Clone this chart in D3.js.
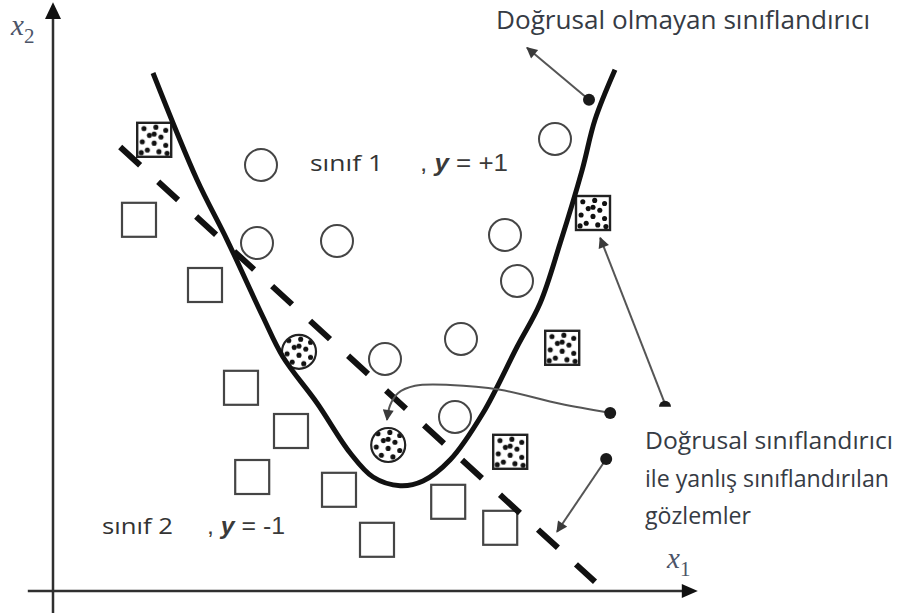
<!DOCTYPE html>
<html>
<head>
<meta charset="utf-8">
<script src="https://cdn.jsdelivr.net/npm/d3@7"></script>
<style>
  html, body { margin: 0; padding: 0; background: #fff; }
  svg { display: block; }
</style>
</head>
<body>
<svg id="chart" width="901" height="616"></svg>
<script>
// Class 1 (y = +1) observations
const class1Points = [
  [5.2, 10.65], [12.55, 11.3], [5.1, 8.7], [7.1, 8.75], [11.3, 8.9],
  [11.6, 7.75], [10.2, 6.3], [8.3, 5.8], [10.05, 4.35]
];
// Class 2 (y = -1) observations
const class2Points = [
  [2.15, 9.28], [3.8, 7.65], [4.7, 5.08], [5.95, 4.0], [4.98, 2.85],
  [7.15, 2.53], [8.1, 1.28], [9.88, 2.23], [11.18, 1.58]
];
// Observations misclassified by the linear classifier
const misclassSquares = [[2.53, 11.28], [13.5, 9.45], [12.73, 6.08], [11.43, 3.48]];
const misclassCircles = [[6.15, 5.98], [8.38, 3.65]];

// Non-linear decision boundary
const nonlinearBoundary = [
  [2.5, 12.95], [3.6, 10.28], [4.35, 8.78], [5.25, 6.85], [5.75, 5.85],
  [6.6, 4.7], [7.43, 3.45], [8.0, 2.85], [8.68, 2.63], [9.25, 2.75],
  [9.93, 3.28], [10.75, 4.45], [11.6, 6.1], [12.18, 7.2], [12.68, 8.7],
  [13.23, 10.53], [13.55, 11.78], [14.05, 13.03]
];
// Linear decision boundary (end points)
const linearBoundary = [[1.68, 11.1], [13.55, 0.23]];

// Annotation leaders: start dot -> arrow tip
const leaderNonlinear = [[13.4, 12.28], [11.85, 13.58]];
const leaderSquare = [[15.3, 4.68], [13.68, 8.83]];
const leaderCircle = [
  [13.93, 4.45], [12.68, 4.68], [11.18, 5.03], [9.93, 5.15],
  [9.05, 5.13], [8.63, 4.95], [8.43, 4.65], [8.35, 4.28]
];
const leaderLine = [[13.83, 3.3], [12.6, 1.48]];

const titleNonlinear = "Doğrusal olmayan sınıflandırıcı";
const noteLines = ["Doğrusal sınıflandırıcı", "ile yanlış sınıflandırılan", "gözlemler"];
const class1Label = "sınıf 1";
const class2Label = "sınıf 2";

const svg = d3.select("#chart");
const x = d3.scaleLinear().domain([0, 16]).range([53, 693]);
const y = d3.scaleLinear().domain([0, 14.75]).range([591, 1]);

const defs = svg.append("defs");

// speckled fill for misclassified markers
const dotsInPattern = [
  [0.2, 0.17], [0.55, 0.13], [0.84, 0.22], [0.36, 0.37], [0.7, 0.42],
  [0.15, 0.56], [0.5, 0.6], [0.84, 0.66], [0.3, 0.8], [0.64, 0.85],
  [0.88, 0.9], [0.12, 0.88], [0.5, 0.33]
];
const pat = defs.append("pattern")
  .attr("id", "speckle")
  .attr("patternUnits", "objectBoundingBox")
  .attr("patternContentUnits", "objectBoundingBox")
  .attr("width", 1).attr("height", 1);
pat.append("rect").attr("width", 1).attr("height", 1).attr("fill", "#fff");
pat.selectAll("circle").data(dotsInPattern).join("circle")
  .attr("cx", d => d[0]).attr("cy", d => d[1]).attr("r", 0.075).attr("fill", "#111");

defs.append("marker")
  .attr("id", "arrowhead")
  .attr("viewBox", "0 0 10 10")
  .attr("refX", 9).attr("refY", 5)
  .attr("markerWidth", 13).attr("markerHeight", 11)
  .attr("markerUnits", "userSpaceOnUse")
  .attr("orient", "auto")
  .append("path").attr("d", "M0,0 L10,5 L0,10 Z").attr("fill", "#3a3a3a");

// axes
const axisColor = "#2f2f2f";
svg.append("line")
  .attr("x1", x(0)).attr("x2", x(0))
  .attr("y1", y(-0.55)).attr("y2", y(14.3))
  .attr("stroke", axisColor).attr("stroke-width", 2.5);
svg.append("path")
  .attr("d", `M${x(0)},${y(14.72)} L${x(0) - 8},${y(14.3)} L${x(0) + 8},${y(14.3)} Z`)
  .attr("fill", "#111");
svg.append("line")
  .attr("x1", x(-0.63)).attr("x2", x(15.75))
  .attr("y1", y(0)).attr("y2", y(0))
  .attr("stroke", axisColor).attr("stroke-width", 2.5);
svg.append("path")
  .attr("d", `M${x(16.12)},${y(0)} L${x(15.72)},${y(0) - 7} L${x(15.72)},${y(0) + 7} Z`)
  .attr("fill", "#111");

// axis labels
const axLabel = (px, py, sub) => {
  const t = svg.append("text")
    .attr("x", px).attr("y", py)
    .attr("font-family", "'Liberation Serif', 'DejaVu Serif', serif")
    .attr("fill", "#4c5468");
  t.append("tspan").attr("font-style", "italic").attr("font-size", 29).text("x");
  t.append("tspan").attr("font-size", 21).attr("dy", 8).attr("dx", 0).text(sub);
};
axLabel(11, 35, "2");
axLabel(667, 568, "1");

// markers
const sq = 34, r = 16;
const grey = "#454545";
svg.append("g").selectAll("rect").data(class2Points).join("rect")
  .attr("x", d => x(d[0]) - sq / 2).attr("y", d => y(d[1]) - sq / 2)
  .attr("width", sq).attr("height", sq)
  .attr("fill", "#fff").attr("stroke", grey).attr("stroke-width", 2.2);
svg.append("g").selectAll("circle").data(class1Points).join("circle")
  .attr("cx", d => x(d[0])).attr("cy", d => y(d[1])).attr("r", r)
  .attr("fill", "#fff").attr("stroke", grey).attr("stroke-width", 2);
svg.append("g").selectAll("rect").data(misclassSquares).join("rect")
  .attr("x", d => x(d[0]) - sq / 2).attr("y", d => y(d[1]) - sq / 2)
  .attr("width", sq).attr("height", sq)
  .attr("fill", "url(#speckle)").attr("stroke", "#222").attr("stroke-width", 2.4);
svg.append("g").selectAll("circle").data(misclassCircles).join("circle")
  .attr("cx", d => x(d[0])).attr("cy", d => y(d[1])).attr("r", 17)
  .attr("fill", "url(#speckle)").attr("stroke", "#222").attr("stroke-width", 2.2);

// boundaries
svg.append("path")
  .attr("d", d3.line().x(d => x(d[0])).y(d => y(d[1]))(linearBoundary))
  .attr("fill", "none").attr("stroke", "#111").attr("stroke-width", 6)
  .attr("stroke-dasharray", "27,24.5");
svg.append("path")
  .attr("d", d3.line().x(d => x(d[0])).y(d => y(d[1])).curve(d3.curveCatmullRom.alpha(0.5))(nonlinearBoundary))
  .attr("fill", "none").attr("stroke", "#111").attr("stroke-width", 5);

// annotation leaders
const leader = (pts, curved) => svg.append("path")
  .attr("d", d3.line().x(d => x(d[0])).y(d => y(d[1]))
    .curve(curved ? d3.curveCatmullRom.alpha(0.5) : d3.curveLinear)(pts))
  .attr("fill", "none").attr("stroke", "#555").attr("stroke-width", 2)
  .attr("marker-end", "url(#arrowhead)");
leader(leaderNonlinear, false);
leader(leaderSquare, false);
leader(leaderCircle, true);
leader(leaderLine, false);

const dotStarts = [leaderNonlinear[0], leaderCircle[0], leaderLine[0]];
svg.append("g").selectAll("circle").data(dotStarts).join("circle")
  .attr("cx", d => x(d[0])).attr("cy", d => y(d[1])).attr("r", 6)
  .attr("fill", "#1a1a1a");
// half dot where the leader meets the note
{
  const cx = x(leaderSquare[0][0]), cy = y(leaderSquare[0][1]) + 3;
  svg.append("path")
    .attr("d", `M${cx - 6},${cy} A6,6 0 0 1 ${cx + 6},${cy} Z`)
    .attr("fill", "#1a1a1a");
}

// texts
const sans = "'Open Sans', 'Noto Sans', sans-serif";
const textColor = "#363b44";
svg.append("text")
  .attr("x", 496).attr("y", 29)
  .attr("font-family", sans).attr("font-size", 25).attr("fill", textColor)
  .attr("textLength", 374).attr("lengthAdjust", "spacingAndGlyphs")
  .text(titleNonlinear);

const noteWidths = [248, 244, 106];
svg.append("g").selectAll("text").data(noteLines).join("text")
  .attr("x", 645).attr("y", (d, i) => 449 + i * 37.5)
  .attr("font-family", sans).attr("font-size", 24).attr("fill", textColor)
  .attr("textLength", (d, i) => noteWidths[i]).attr("lengthAdjust", "spacingAndGlyphs")
  .text(d => d);

const classLabel = (label, eq, px, py, labelW, eqX, eqW) => {
  svg.append("text")
    .attr("x", px).attr("y", py)
    .attr("font-family", sans).attr("font-size", 22).attr("fill", "#333")
    .attr("textLength", labelW).attr("lengthAdjust", "spacingAndGlyphs")
    .text(label);
  const t = svg.append("text")
    .attr("x", eqX).attr("y", py)
    .attr("font-family", "'Liberation Sans', Arial, sans-serif")
    .attr("font-size", 23).attr("fill", "#3a3a3a")
    .attr("textLength", eqW).attr("lengthAdjust", "spacingAndGlyphs");
  t.append("tspan").text(", ");
  t.append("tspan").attr("font-style", "italic").attr("font-weight", "bold").text("y");
  t.append("tspan").text(" = " + eq);
};
classLabel(class1Label, "+1", 310, 171, 73, 420, 88);
classLabel(class2Label, "-1", 102, 534, 71, 207, 78);
</script>
</body>
</html>
